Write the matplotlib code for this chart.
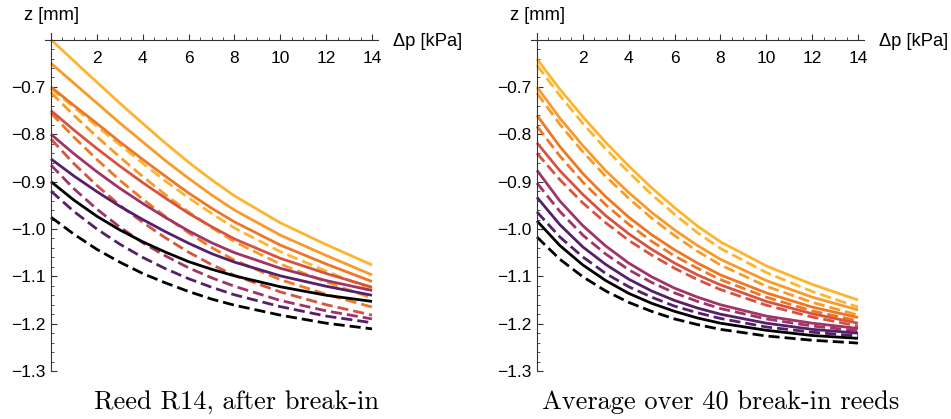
import matplotlib.pyplot as plt
from matplotlib.ticker import FixedLocator, MultipleLocator, FuncFormatter

plt.rcParams['font.family'] = ['Liberation Sans', 'DejaVu Sans']
plt.rcParams['font.size'] = 12.5

# pressure steps (kPa)
p = [0, 1, 2, 3, 4, 5, 6, 7, 8, 10, 12, 14]

# yellow -> black
colors = ['#fdb42f', '#f99a29', '#ef7724', '#d65340', '#9f3466', '#55206a', '#000000']

# Reed R14, after break-in
r14_solid = [
    [-0.600, -0.645, -0.690, -0.734, -0.777, -0.819, -0.859, -0.896, -0.930, -0.987, -1.033, -1.076],
    [-0.650, -0.692, -0.734, -0.776, -0.816, -0.856, -0.893, -0.928, -0.960, -1.013, -1.056, -1.097],
    [-0.700, -0.739, -0.777, -0.816, -0.853, -0.889, -0.924, -0.956, -0.985, -1.034, -1.074, -1.111],
    [-0.750, -0.791, -0.830, -0.867, -0.902, -0.935, -0.967, -0.995, -1.021, -1.062, -1.094, -1.123],
    [-0.800, -0.841, -0.879, -0.914, -0.946, -0.976, -1.004, -1.029, -1.050, -1.083, -1.109, -1.130],
    [-0.852, -0.888, -0.921, -0.952, -0.980, -1.006, -1.030, -1.052, -1.070, -1.099, -1.121, -1.140],
    [-0.900, -0.939, -0.973, -1.002, -1.027, -1.049, -1.069, -1.085, -1.099, -1.122, -1.140, -1.153],
]
r14_dashed = [
    [-0.703, -0.743, -0.783, -0.822, -0.861, -0.899, -0.934, -0.967, -0.998, -1.048, -1.089, -1.128],
    [-0.712, -0.760, -0.805, -0.848, -0.889, -0.928, -0.964, -0.997, -1.027, -1.074, -1.112, -1.146],
    [-0.755, -0.806, -0.853, -0.897, -0.937, -0.974, -1.008, -1.039, -1.066, -1.107, -1.138, -1.165],
    [-0.810, -0.862, -0.908, -0.950, -0.986, -1.019, -1.049, -1.075, -1.098, -1.133, -1.160, -1.182],
    [-0.865, -0.915, -0.958, -0.996, -1.029, -1.057, -1.082, -1.103, -1.121, -1.151, -1.173, -1.190],
    [-0.920, -0.963, -1.000, -1.032, -1.060, -1.084, -1.105, -1.123, -1.139, -1.164, -1.184, -1.198],
    [-0.975, -1.011, -1.043, -1.070, -1.094, -1.114, -1.132, -1.148, -1.161, -1.182, -1.199, -1.211],
]

# Average over 40 break-in reeds
avg_solid = [
    [-0.641, -0.705, -0.763, -0.817, -0.867, -0.913, -0.955, -0.994, -1.027, -1.078, -1.117, -1.150],
    [-0.700, -0.766, -0.824, -0.877, -0.923, -0.965, -1.002, -1.035, -1.064, -1.109, -1.144, -1.171],
    [-0.760, -0.826, -0.883, -0.932, -0.975, -1.012, -1.044, -1.072, -1.097, -1.135, -1.165, -1.187],
    [-0.818, -0.877, -0.927, -0.972, -1.010, -1.043, -1.072, -1.097, -1.118, -1.153, -1.179, -1.199],
    [-0.876, -0.941, -0.993, -1.036, -1.072, -1.101, -1.125, -1.144, -1.160, -1.184, -1.199, -1.210],
    [-0.933, -0.991, -1.038, -1.075, -1.106, -1.131, -1.151, -1.167, -1.180, -1.199, -1.212, -1.220],
    [-0.983, -1.035, -1.076, -1.109, -1.136, -1.157, -1.174, -1.188, -1.199, -1.214, -1.225, -1.231],
]
avg_dashed = [
    [-0.654, -0.718, -0.777, -0.831, -0.880, -0.927, -0.969, -1.008, -1.041, -1.092, -1.132, -1.165],
    [-0.713, -0.779, -0.837, -0.889, -0.935, -0.977, -1.014, -1.047, -1.076, -1.121, -1.155, -1.182],
    [-0.783, -0.846, -0.901, -0.949, -0.990, -1.026, -1.057, -1.083, -1.107, -1.144, -1.173, -1.194],
    [-0.840, -0.896, -0.945, -0.987, -1.024, -1.055, -1.083, -1.107, -1.128, -1.161, -1.186, -1.205],
    [-0.903, -0.963, -1.013, -1.053, -1.086, -1.113, -1.135, -1.153, -1.168, -1.190, -1.205, -1.215],
    [-0.964, -1.017, -1.059, -1.094, -1.122, -1.144, -1.163, -1.177, -1.189, -1.207, -1.218, -1.226],
    [-1.017, -1.064, -1.101, -1.131, -1.155, -1.174, -1.190, -1.202, -1.212, -1.226, -1.235, -1.241],
]

W, H = 951, 419
fig = plt.figure(figsize=(W / 100, H / 100), dpi=100)


def panel(left_px, solid, dashed, caption, cap_x):
    ax = fig.add_axes([left_px / W, (H - 371) / H, 333 / W, (371 - 33) / H])
    for c, zs, zd in zip(colors, solid, dashed):
        ax.plot(p, zs, color=c, lw=2.0, solid_capstyle='butt')
        ax.plot(p, zd, color=c, lw=2.0, dashes=(4, 1.8))
    ax.set_xlim(-0.26, 14.26)
    ax.set_ylim(-1.3, -0.586)
    for s in ('top', 'right'):
        ax.spines[s].set_visible(False)
    ax.spines['left'].set_position(('data', 0))
    ax.spines['bottom'].set_position(('data', -0.6))
    for s in ('left', 'bottom'):
        ax.spines[s].set_color('#333333')
        ax.spines[s].set_linewidth(0.8)
    ax.xaxis.set_major_locator(FixedLocator([2, 4, 6, 8, 10, 12, 14]))
    ax.xaxis.set_minor_locator(MultipleLocator(0.5))
    ax.yaxis.set_major_locator(FixedLocator([-1.3, -1.2, -1.1, -1.0, -0.9, -0.8, -0.7]))
    ax.yaxis.set_minor_locator(MultipleLocator(0.02))
    ax.yaxis.set_major_formatter(FuncFormatter(lambda v, pos: f'{v:.1f}'.replace('-', '\u2212')))
    ax.tick_params(axis='both', which='major', direction='in', length=4.5, width=0.8,
                   color='#333333', labelsize=12.5)
    ax.tick_params(axis='both', which='minor', direction='in', length=2.5, width=0.6,
                   color='#333333')
    ax.tick_params(axis='x', which='major', pad=8)
    ax.tick_params(axis='y', which='major', pad=4)
    ax.patch.set_visible(False)
    y0 = left_px + 6
    fig.text(y0 / W, 1 - 15 / H, 'z [mm]', ha='center', va='center', fontsize=13.2)
    fig.text((y0 + 342) / W, 1 - 41 / H, '\u0394p [kPa]', ha='left', va='center', fontsize=13.2)
    fig.text(cap_x / W, 1 - 402 / H, caption, ha='center', va='center',
             family='cmr10', fontsize=19)
    return ax


panel(45, r14_solid, r14_dashed, 'Reed R14, after break-in', 236)
panel(531, avg_solid, avg_dashed, 'Average over 40 break-in reeds', 721)

fig.savefig('out.png', dpi=100)
